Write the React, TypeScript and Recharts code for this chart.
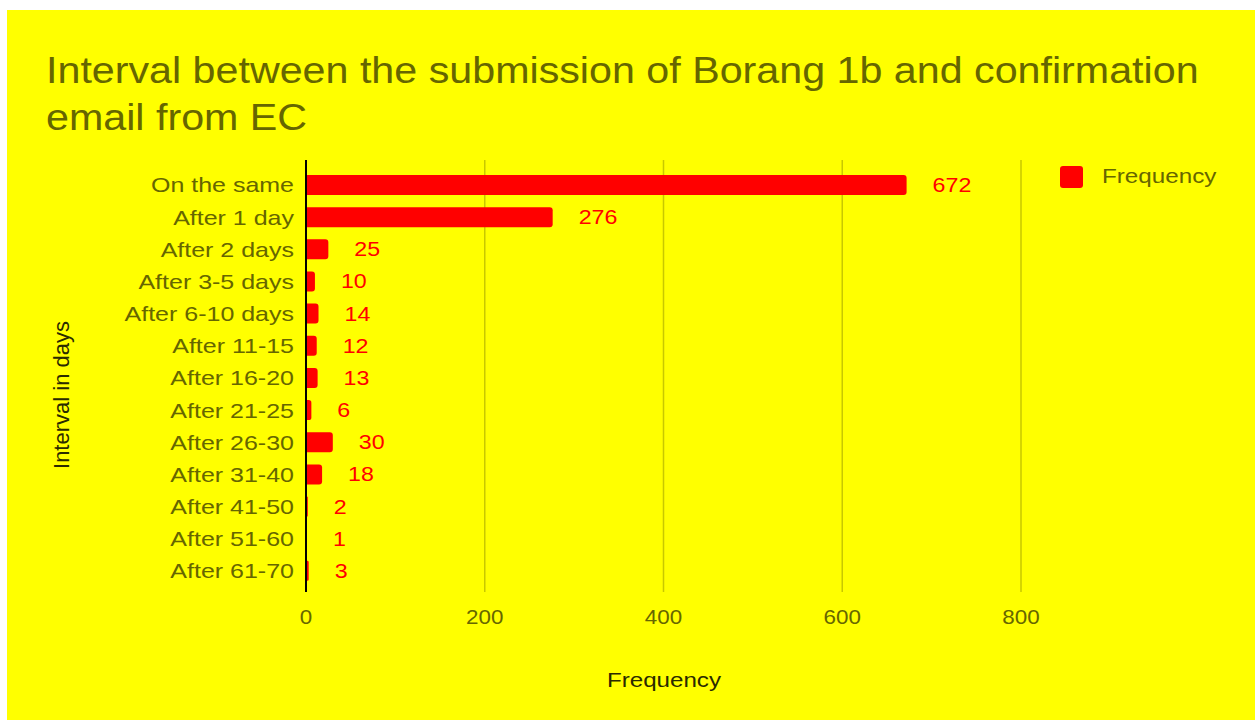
import React from "react";
import {
  BarChart,
  Bar,
  XAxis,
  YAxis,
  CartesianGrid,
  LabelList,
} from "recharts";

const CATEGORIES = [
  "On the same",
  "After 1 day",
  "After 2 days",
  "After 3-5 days",
  "After 6-10 days",
  "After 11-15",
  "After 16-20",
  "After 21-25",
  "After 26-30",
  "After 31-40",
  "After 41-50",
  "After 51-60",
  "After 61-70",
];
const FREQUENCY = [672, 276, 25, 10, 14, 12, 13, 6, 30, 18, 2, 1, 3];
const X_TICKS = [0, 200, 400, 600, 800];

const data = CATEGORIES.map((c, i) => ({ interval: c, frequency: FREQUENCY[i] }));

const FONT = "'Liberation Sans', Arial, sans-serif";
const OLIVE = "#666600";
const DARK = "#2a2a00";
const RED = "#ff0000";
const STRETCH = 1.16;

function YTick(props: any) {
  const { y, payload } = props;
  return (
    <text
      transform={`translate(287, ${y}) scale(1.19, 1)`}
      textAnchor="end"
      dy="0.35em"
      fontSize={21}
      fill={OLIVE}
      fontFamily={FONT}
    >
      {payload.value}
    </text>
  );
}

function XTick(props: any) {
  const { x, payload } = props;
  return (
    <text
      transform={`translate(${x}, 607) scale(1.12, 1)`}
      textAnchor="middle"
      dy="0.35em"
      fontSize={20}
      fill={OLIVE}
      fontFamily={FONT}
    >
      {payload.value}
    </text>
  );
}

function ValueLabel(props: any) {
  const { x, y, width, height, value } = props;
  return (
    <text
      transform={`translate(${x + width + 26}, ${y + height / 2}) scale(${STRETCH}, 1)`}
      dy="0.35em"
      fontSize={20}
      fill={RED}
      fontFamily={FONT}
    >
      {value}
    </text>
  );
}

function LegendBox() {
  return (
    <div
      style={{
        position: "absolute",
        left: 1053,
        top: 155,
        display: "flex",
        alignItems: "center",
        fontFamily: FONT,
      }}
    >
      <div style={{ width: 23, height: 22, background: RED, borderRadius: 3 }} />
      <span
        style={{
          marginLeft: 19,
          fontSize: 20,
          color: OLIVE,
          display: "inline-block",
          whiteSpace: "nowrap",
          transform: "scaleX(1.21)",
          transformOrigin: "left center",
        }}
      >
        Frequency
      </span>
    </div>
  );
}

const titleLine: React.CSSProperties = {
  whiteSpace: "nowrap",
  transform: "scaleX(1.145)",
  transformOrigin: "left center",
};

export default function App() {
  return (
    <div style={{ position: "absolute", left: 0, top: 0, width: 1255, height: 720, background: "#fff" }}>
      <div style={{ position: "absolute", left: 7, top: 10, width: 1248, height: 710, background: "#ffff00" }}>
        <div
          style={{
            position: "absolute",
            left: 39,
            top: 37,
            fontFamily: FONT,
            fontSize: 36,
            lineHeight: "47px",
            color: OLIVE,
          }}
        >
          <div style={titleLine}>Interval between the submission of Borang 1b and confirmation</div>
          <div style={titleLine}>email from EC</div>
        </div>
        <BarChart
          width={1248}
          height={710}
          data={data}
          layout="vertical"
          margin={{ top: 150, right: 234, bottom: 88, left: 0 }}
          style={{ position: "absolute", left: 0, top: 0 }}
        >
          <CartesianGrid horizontal={false} vertical stroke="#c8c800" strokeWidth={1.5} />
          <XAxis
            type="number"
            domain={[0, 800]}
            ticks={X_TICKS}
            axisLine={false}
            tickLine={false}
            height={40}
            tick={(p: any) => <XTick {...p} />}
            label={{
              content: () => (
                <text
                  transform={`translate(657, 670) scale(1.15, 1)`}
                  textAnchor="middle"
                  dy="0.35em"
                  fontSize={21}
                  fill={DARK}
                  fontFamily={FONT}
                >
                  Frequency
                </text>
              ),
            }}
          />
          <YAxis
            type="category"
            dataKey="interval"
            width={299}
            padding={{ top: 9, bottom: 5 }}
            axisLine={{ stroke: "#000", strokeWidth: 2 }}
            tickLine={false}
            interval={0}
            tick={(p: any) => <YTick {...p} />}
            label={{
              content: () => (
                <text
                  transform="translate(54, 385) rotate(-90)"
                  textAnchor="middle"
                  dy="0.35em"
                  fontSize={22}
                  fill={DARK}
                  fontFamily={FONT}
                >
                  Interval in days
                </text>
              ),
            }}
          />
          <Bar
            dataKey="frequency"
            name="Frequency"
            fill={RED}
            barSize={20}
            radius={[0, 3, 3, 0]}
            isAnimationActive={false}
          >
            <LabelList dataKey="frequency" content={(p: any) => <ValueLabel {...p} />} />
          </Bar>
        </BarChart>
        <LegendBox />
      </div>
    </div>
  );
}
